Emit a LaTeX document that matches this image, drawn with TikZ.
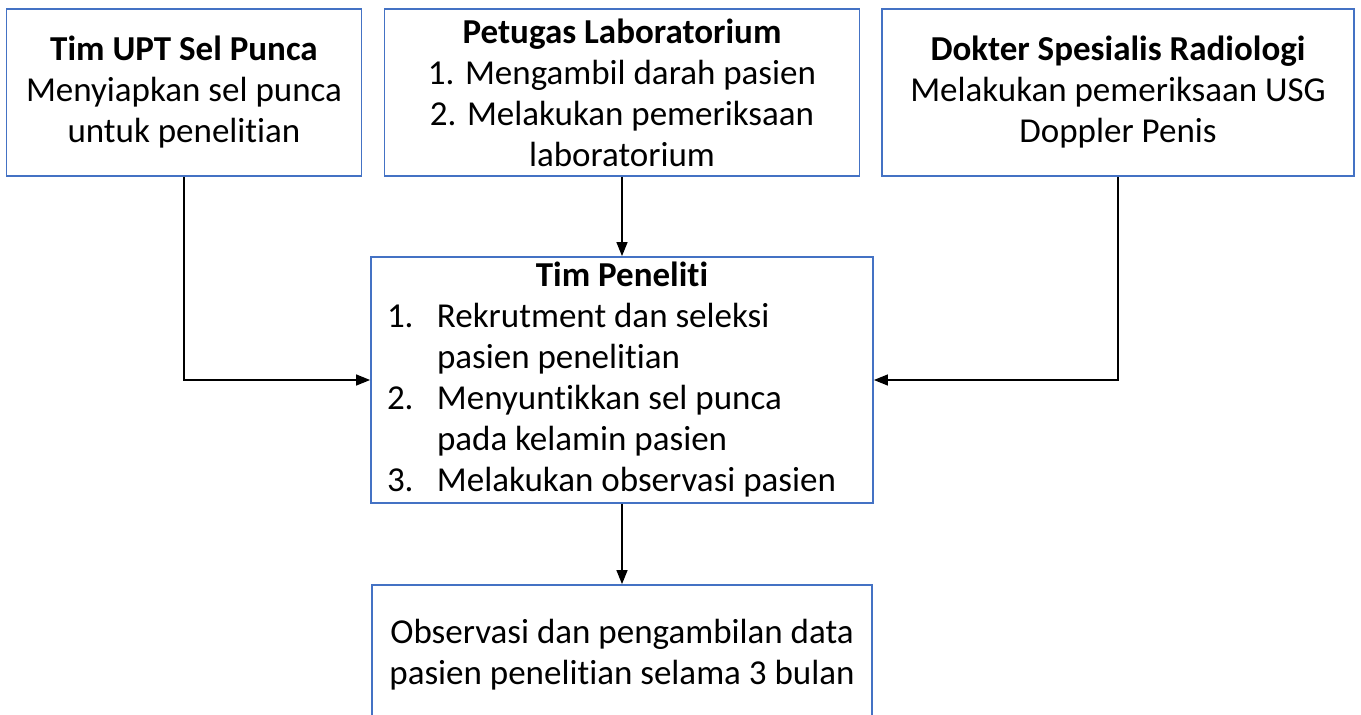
\documentclass[tikz,border=0pt]{standalone}
\usepackage{fontspec}
\setmainfont{Carlito}[Ligatures=NoCommon]
\usetikzlibrary{arrows.meta}
\definecolor{boxblue}{HTML}{4472C4}
\begin{document}
\begin{tikzpicture}[x=1pt,y=-1pt,
  box/.style={draw=boxblue,line width=1.8pt,rectangle,inner sep=0pt,align=center,
    font=\fontsize{35}{41}\selectfont},
  conn/.style={line width=1.3pt,-{Triangle[length=14pt,width=11pt]}}]
\useasboundingbox (0,0) rectangle (1361,715);
\node[box,minimum width=355pt,minimum height=167pt] (upt) at (184,92.5)
  {\textbf{Tim UPT Sel Punca}\\Menyiapkan sel punca\\untuk penelitian};
\node[box,minimum width=475pt,minimum height=167pt] (lab) at (622,92.5)
  {\textbf{Petugas Laboratorium}\\1. Mengambil darah pasien\\2. Melakukan pemeriksaan\\laboratorium};
\node[box,minimum width=472pt,minimum height=167pt] (rad) at (1118,92.5)
  {\textbf{Dokter Spesialis Radiologi}\\Melakukan pemeriksaan USG\\Doppler Penis};
\node[box,minimum width=502pt,minimum height=246pt,text width=470pt,align=flush left] (tim) at (622,380)
  {\makebox[470pt]{\textbf{Tim Peneliti}}\\
   \makebox[50pt][l]{1.}Rekrutment dan seleksi\\
   \hspace*{50pt}pasien penelitian\\
   \makebox[50pt][l]{2.}Menyuntikkan sel punca\\
   \hspace*{50pt}pada kelamin pasien\\
   \makebox[50pt][l]{3.}Melakukan observasi pasien};
\node[box,minimum width=500pt,minimum height=140pt] (obs) at (622,655)
  {Observasi dan pengambilan data\\pasien penelitian selama 3 bulan};
\draw[conn] (upt.south) |- (tim.west);
\draw[conn] (rad.south) |- (tim.east);
\draw[conn] (lab.south) -- (tim.north);
\draw[conn] (tim.south) -- (obs.north);
\end{tikzpicture}
\end{document}
